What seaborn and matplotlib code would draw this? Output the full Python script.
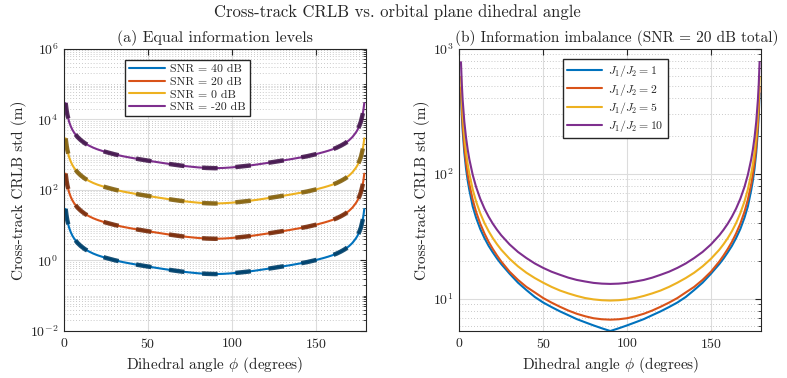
import numpy as np
import matplotlib
matplotlib.use("Agg")
import matplotlib.pyplot as plt
import seaborn as sns
from matplotlib.ticker import LogLocator, NullFormatter, FixedLocator

# dihedral angle samples (degrees)
angle = [1, 1.5, 2, 3, 4, 5, 6, 8, 10, 12.5, 15, 17.5, 20, 22.5, 25, 30, 35, 40, 45, 50,
         55, 60, 65, 70, 75, 80, 85, 90, 95, 100, 105, 110, 115, 120, 125, 130, 135, 140,
         145, 150, 155, 157.5, 160, 162.5, 165, 167.5, 170, 172, 174, 175, 176, 177, 178,
         178.5, 179]

# (a) equal information levels, CRLB std in metres
snr_40 = [28.7, 18.5, 13.5, 8.6, 6.38, 5.05, 4.21, 3.16, 2.56, 2.08, 1.78, 1.56, 1.40, 1.28,
          1.18, 1.02, 0.898, 0.81, 0.735, 0.672, 0.616, 0.566, 0.522, 0.484, 0.456, 0.432,
          0.417, 0.41, 0.417, 0.432, 0.456, 0.484, 0.522, 0.566, 0.616, 0.672, 0.735, 0.81,
          0.898, 1.02, 1.18, 1.28, 1.40, 1.56, 1.78, 2.08, 2.56, 3.16, 4.21, 5.05, 6.38, 8.6,
          13.5, 18.5, 28.7]
snr_20 = [287, 185, 135, 86, 63.8, 50.5, 42.1, 31.6, 25.6, 20.8, 17.8, 15.6, 14.0, 12.8,
          11.8, 10.2, 8.98, 8.1, 7.35, 6.72, 6.16, 5.66, 5.22, 4.84, 4.56, 4.32, 4.17, 4.1,
          4.17, 4.32, 4.56, 4.84, 5.22, 5.66, 6.16, 6.72, 7.35, 8.1, 8.98, 10.2, 11.8, 12.8,
          14.0, 15.6, 17.8, 20.8, 25.6, 31.6, 42.1, 50.5, 63.8, 86, 135, 185, 287]
snr_0 = [2870, 1850, 1350, 860, 638, 505, 421, 316, 256, 208, 178, 156, 140, 128, 118, 102,
         89.8, 81, 73.5, 67.2, 61.6, 56.6, 52.2, 48.4, 45.6, 43.2, 41.7, 41, 41.7, 43.2, 45.6,
         48.4, 52.2, 56.6, 61.6, 67.2, 73.5, 81, 89.8, 102, 118, 128, 140, 156, 178, 208,
         256, 316, 421, 505, 638, 860, 1350, 1850, 2870]
snr_m20 = [28700, 18500, 13500, 8600, 6380, 5050, 4210, 3160, 2560, 2080, 1780, 1560, 1400,
           1280, 1180, 1020, 898, 810, 735, 672, 616, 566, 522, 484, 456, 432, 417, 410, 417,
           432, 456, 484, 522, 566, 616, 672, 735, 810, 898, 1020, 1180, 1280, 1400, 1560,
           1780, 2080, 2560, 3160, 4210, 5050, 6380, 8600, 13500, 18500, 28700]
snr_labels = ["SNR = 40 dB", "SNR = 20 dB", "SNR = 0 dB", "SNR = -20 dB"]

# (b) information imbalance J1/J2
ratio_1 = [440, 294, 221, 147, 110, 88, 73.7, 54.6, 44.4, 36.0, 30.5, 26.4, 23.4, 20.9, 18.9,
           15.8, 13.4, 11.7, 10.3, 9.3, 8.55, 7.9, 7.36, 6.85, 6.46, 6.1, 5.78, 5.5, 5.78,
           6.1, 6.46, 6.85, 7.36, 7.9, 8.55, 9.3, 10.3, 11.7, 13.4, 15.8, 18.9, 20.9, 23.4,
           26.4, 30.5, 36.0, 44.4, 54.6, 73.7, 88, 110, 147, 221, 294, 440]
ratio_2 = [490, 328, 246, 164, 123, 98.6, 82.3, 61.8, 49.5, 39.7, 33.2, 28.4, 24.9, 22.1,
           19.8, 16.4, 14.1, 12.4, 11.2, 10.1, 9.28, 8.6, 8.02, 7.56, 7.22, 6.96, 6.83, 6.78,
           6.83, 6.96, 7.22, 7.56, 8.02, 8.6, 9.28, 10.1, 11.2, 12.4, 14.1, 16.4, 19.8, 22.1,
           24.9, 28.4, 33.2, 39.7, 49.5, 61.8, 82.3, 98.6, 123, 164, 246, 328, 490]
ratio_5 = [595, 397, 298, 199, 149, 119, 99.5, 74.7, 59.9, 48.1, 40.2, 34.6, 30.4, 27.2,
           24.6, 20.8, 18.1, 16.1, 14.6, 13.4, 12.4, 11.6, 11.0, 10.5, 10.1, 9.85, 9.70, 9.64,
           9.70, 9.85, 10.1, 10.5, 11.0, 11.6, 12.4, 13.4, 14.6, 16.1, 18.1, 20.8, 24.6, 27.2,
           30.4, 34.6, 40.2, 48.1, 59.9, 74.7, 99.5, 119, 149, 199, 298, 397, 595]
ratio_10 = [780, 520, 390, 260, 195, 156, 130, 97.7, 78.3, 62.8, 52.5, 45.2, 39.7, 35.5, 32.1,
            27.1, 23.6, 21.1, 19.1, 17.6, 16.4, 15.5, 14.7, 14.1, 13.7, 13.35, 13.17, 13.1,
            13.17, 13.35, 13.7, 14.1, 14.7, 15.5, 16.4, 17.6, 19.1, 21.1, 23.6, 27.1, 32.1,
            35.5, 39.7, 45.2, 52.5, 62.8, 78.3, 97.7, 130, 156, 195, 260, 390, 520, 780]
ratio_labels = [r"$J_1/J_2 = 1$", r"$J_1/J_2 = 2$", r"$J_1/J_2 = 5$", r"$J_1/J_2 = 10$"]

colors = ["#0072BD", "#D95319", "#EDB120", "#7E2F8E"]

sns.set_style("white")
plt.rcParams["font.family"] = ["cmr10", "DejaVu Serif"]
plt.rcParams["mathtext.fontset"] = "cm"
plt.rcParams["axes.formatter.use_mathtext"] = True


def darken(hex_color, f=0.55):
    c = matplotlib.colors.to_rgb(hex_color)
    return tuple(v * f for v in c)


def style_axes(ax, major_y, ylim):
    ax.set_yscale("log")
    ax.set_xlim(0, 180)
    ax.set_ylim(*ylim)
    ax.set_xticks([0, 50, 100, 150])
    ax.yaxis.set_major_locator(FixedLocator(major_y))
    ax.yaxis.set_minor_locator(LogLocator(base=10, subs=np.arange(1, 10), numticks=200))
    ax.yaxis.set_minor_formatter(NullFormatter())
    ax.grid(True, which="major", color="#dcdcdc", lw=0.8, ls="-")
    ax.grid(True, which="minor", axis="y", color="#b8b8b8", lw=0.6, ls=(0, (1, 2.5)))
    ax.set_axisbelow(True)
    ax.tick_params(which="both", direction="in", top=True, right=True,
                   color="#262626", labelsize=10, labelcolor="#262626")
    ax.tick_params(which="major", length=4, width=0.8, pad=4)
    ax.tick_params(which="minor", length=2, width=0.6)
    for s in ax.spines.values():
        s.set_color("#262626")
        s.set_linewidth(0.8)
    ax.set_xlabel(r"Dihedral angle $\phi$ (degrees)", fontsize=11, labelpad=3)
    ax.set_ylabel("Cross-track CRLB std (m)", fontsize=11, labelpad=2)


fig = plt.figure(figsize=(7.87, 3.78), dpi=100)
ax1 = fig.add_axes([0.0813, 0.1243, 0.3837, 0.747])
ax2 = fig.add_axes([0.5836, 0.1243, 0.3837, 0.747])

# (a) solid curves with dark dashed overlay
handles = []
for vals, col in zip([snr_40, snr_20, snr_0, snr_m20], colors):
    sns.lineplot(x=angle, y=vals, ax=ax1, color=col, lw=1.5)
    handles.append(ax1.lines[-1])
for vals, col in zip([snr_40, snr_20, snr_0, snr_m20], colors):
    sns.lineplot(x=angle, y=vals, ax=ax1, color=darken(col), lw=3.2, alpha=0.9,
                 linestyle=(0, (3.5, 4.0)))
style_axes(ax1, [1e-2, 1e0, 1e2, 1e4, 1e6], (1e-2, 1e6))
ax1.set_title("(a) Equal information levels", fontsize=11.5, pad=5)
ax1.legend(handles, snr_labels, loc="upper left", bbox_to_anchor=(0.202, 0.96),
           borderaxespad=0, fontsize=8.5, frameon=True, fancybox=False, framealpha=1,
           edgecolor="#262626", handlelength=3.0, labelspacing=0.2, borderpad=0.35,
           handletextpad=0.5)

# (b) imbalance curves
handles = []
for vals, col in zip([ratio_1, ratio_2, ratio_5, ratio_10], colors):
    sns.lineplot(x=angle, y=vals, ax=ax2, color=col, lw=1.5)
    handles.append(ax2.lines[-1])
style_axes(ax2, [1e1, 1e2, 1e3], (min(ratio_1), 1e3))
ax2.set_title("(b) Information imbalance (SNR = 20 dB total)", fontsize=11, pad=5, x=0.52)
ax2.legend(handles, ratio_labels, loc="upper left", bbox_to_anchor=(0.342, 0.963),
           borderaxespad=0, fontsize=8.5, frameon=True, fancybox=False, framealpha=1,
           edgecolor="#262626", handlelength=3.0, labelspacing=0.2, borderpad=0.35,
           handletextpad=0.5)

fig.suptitle("Cross-track CRLB vs. orbital plane dihedral angle", x=0.505, y=0.968,
             va="center", fontsize=12)

fig.savefig("out.png", dpi=100)
